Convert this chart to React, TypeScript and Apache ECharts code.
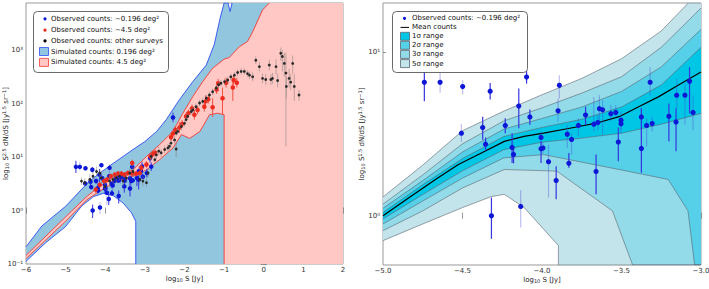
import React, { useEffect, useRef } from 'react';
import * as echarts from 'echarts';

const FONT = 'DejaVu Sans';

// ---------- axes ----------
const leftX = { min: -6, max: 2, interval: 1 };
const leftY = { min: -1, max: 3.88 };
const leftYTicks = [-1, 0, 1, 2, 3];
const rightX = { min: -5, max: -3, interval: 0.5 };
const rightY = { min: -0.30103, max: 1.30103 };
const rightYTicks = [0, 1];

// ---------- left panel: simulated bands (log10 units) ----------
const simBlueUpper = [[-6, -0.68], [-5.6, -0.29], [-5, 0.08], [-4.4, 0.55], [-3.9, 0.83], [-3.3, 1.14], [-3, 1.29], [-2.7, 1.48], [-2.46, 1.7], [-2.13, 2.07], [-1.79, 2.41], [-1.45, 2.72], [-1.25, 3.1], [-1.1, 3.6], [-1.0, 3.88], [-0.9, 3.88], [-0.85, 3.72], [-0.8, 3.88]];
const simBlueLower = [[-6, -0.95], [-5.5, -0.6], [-5, -0.3], [-4.6, 0.08], [-4.3, 0.26], [-4.05, 0.32], [-3.8, 0.28], [-3.55, 0.14], [-3.34, -0.04], [-3.23, -0.2], [-3.23, -1]];
const simRedUpper = [[-6, -0.84], [-5, -0.12], [-4.47, 0.26], [-4.14, 0.45], [-3.72, 0.64], [-3.3, 0.76], [-2.96, 1.01], [-2.63, 1.23], [-2.29, 1.48], [-2.04, 1.82], [-1.79, 2.13], [-1.54, 2.41], [-1.29, 2.66], [-1.0, 2.83], [-0.87, 2.86], [-0.62, 3.06], [-0.41, 3.16], [-0.28, 3.34], [-0.03, 3.75], [0.14, 3.88]];
const simRedLower = [[-6, -0.9], [-5, -0.2], [-4.47, 0.2], [-4.14, 0.36], [-3.72, 0.55], [-3.3, 0.64], [-2.96, 0.76], [-2.63, 0.95], [-2.29, 1.17], [-2.08, 1.42], [-1.87, 1.35], [-1.61, 1.48], [-1.37, 1.79], [-1.16, 1.82], [-1.0, 1.79], [-1.0, -1]];

// ---------- observed counts: [x, y, yLow, yHigh, darkBar] ----------
const blueObs = [
  [-4.74, 0.816, 0.701, 0.93, 1], [-4.641, 0.816, 0.752, 0.9, 0], [-4.499, 0.79, 0.743, 0.828, 0], [-4.326, 0.762, 0.711, 0.812, 1],
  [-4.507, 0.505, 0.451, 0.56, 0], [-4.373, 0.539, 0.465, 0.606, 1], [-4.355, 0.438, 0.398, 0.479, 1], [-4.231, 0.552, 0.505, 0.596, 1],
  [-4.146, 0.671, 0.535, 0.778, 1], [-4.188, 0.418, 0.323, 0.505, 1], [-4.179, 0.374, 0.32, 0.42, 1], [-4.076, 0.604, 0.557, 0.65, 1],
  [-4.097, 0.848, 0.808, 0.889, 1], [-4.318, 0.0, -0.141, 0.111, 1], [-4.134, 0.057, -0.071, 0.156, 0], [-4.006, 0.479, 0.434, 0.515, 0],
  [-4.006, 0.41, 0.323, 0.455, 1], [-3.994, 0.414, 0.38, 0.45, 0], [-3.959, 0.331, 0.111, 0.434, 0], [-3.911, 0.216, 0.101, 0.303, 1],
  [-3.899, 0.642, 0.576, 0.717, 0], [-3.891, 0.798, 0.717, 0.859, 0], [-3.841, 0.499, 0.414, 0.556, 0], [-3.831, 0.321, 0.293, 0.384, 1],
  [-3.814, 0.467, 0.374, 0.505, 0], [-3.771, 0.552, 0.485, 0.596, 0], [-3.726, 0.616, 0.556, 0.667, 1], [-3.674, 0.56, 0.515, 0.727, 0],
  [-3.66, 0.271, 0.131, 0.374, 1], [-3.649, 0.57, 0.525, 0.616, 0], [-3.639, 0.655, 0.556, 0.737, 0], [-3.619, 0.648, 0.495, 0.707, 0],
  [-3.567, 0.624, 0.576, 0.677, 0], [-3.536, 0.632, 0.596, 0.677, 0], [-3.52, 0.451, 0.333, 0.539, 1], [-3.503, 0.584, 0.525, 0.636, 0],
  [-3.503, 0.562, 0.5, 0.6, 0], [-3.375, 0.604, 0.475, 0.657, 0], [-3.375, 0.412, 0.263, 0.657, 1], [-3.342, 0.552, 0.424, 0.596, 0],
  [-3.32, 0.816, 0.737, 0.909, 0], [-3.307, 0.564, 0.515, 0.606, 0], [-3.202, 0.608, 0.455, 0.687, 1], [-3.157, 0.574, 0.394, 0.657, 1],
  [-3.153, 0.737, 0.657, 0.838, 0], [-3.101, 0.737, 0.556, 0.808, 0], [-3.072, 0.822, 0.626, 0.909, 1], [-3.05, 0.632, 0.525, 0.737, 0],
  [-2.95, 0.7, 0.62, 0.78, 1], [-2.87, 0.98, 0.9, 1.06, 1], [-2.84, 0.82, 0.74, 0.9, 1], [-2.29, 1.74, 1.65, 1.83, 1],
];
const redObs = [
  [-4.24, 0.39, 0.33, 0.45], [-4.14, 0.48, 0.43, 0.54], [-4.03, 0.55, 0.5, 0.6], [-3.95, 0.58, 0.53, 0.63], [-3.86, 0.64, 0.59, 0.69],
  [-3.76, 0.67, 0.62, 0.72], [-3.68, 0.69, 0.64, 0.74], [-3.59, 0.69, 0.64, 0.74], [-3.51, 0.67, 0.62, 0.72], [-3.43, 0.7, 0.65, 0.75],
  [-3.32, 0.89, 0.83, 0.95], [-3.32, 0.69, 0.64, 0.74], [-3.22, 0.69, 0.64, 0.74], [-3.13, 0.7, 0.65, 0.75], [-3.09, 0.8, 0.74, 0.86],
  [-2.96, 0.86, 0.8, 0.92], [-2.86, 1.01, 0.95, 1.07], [-2.8, 1.06, 1.0, 1.12], [-2.74, 1.08, 1.02, 1.14], [-2.34, 1.37, 1.3, 1.44],
  [-2.29, 1.44, 1.37, 1.51], [-2.23, 1.51, 1.44, 1.58], [-2.13, 1.55, 1.45, 1.65], [-2.06, 1.62, 1.55, 1.69], [-1.96, 1.76, 1.69, 1.83],
  [-1.9, 1.82, 1.75, 1.89], [-1.81, 1.91, 1.84, 1.98], [-1.75, 1.79, 1.7, 1.88], [-1.67, 1.88, 1.8, 1.96], [-1.5, 1.94, 1.85, 2.03],
  [-1.47, 2.04, 1.9, 2.15], [-1.4, 2.08, 2.0, 2.16], [-1.29, 1.93, 1.75, 2.1], [-1.19, 2.26, 2.18, 2.34], [-1.15, 2.38, 2.3, 2.46],
  [-1.04, 2.1, 1.8, 2.3], [-0.95, 2.39, 2.3, 2.48], [-0.78, 2.3, 2.05, 2.45], [-0.76, 2.44, 2.35, 2.53], [-0.68, 2.39, 2.3, 2.48],
];
const otherObs = [
  [-4.6, 0.55, 0.48, 0.62], [-4.52, 0.52, 0.45, 0.6], [-4.39, 0.58, 0.5, 0.68], [-4.31, 0.64, 0.55, 0.72], [-4.22, 0.73, 0.64, 0.82],
  [-4.14, 0.7, 0.62, 0.78], [-4.1, 0.61, 0.5, 0.75], [-4.01, 0.45, 0.38, 0.55], [-3.89, 0.55, 0.45, 0.65], [-3.8, 0.58, 0.5, 0.68],
  [-3.72, 0.61, 0.52, 0.7], [-3.64, 0.64, 0.56, 0.72], [-3.55, 0.55, 0.45, 0.65], [-3.47, 0.61, 0.52, 0.7], [-3.38, 0.7, 0.6, 0.8],
  [-3.3, 0.73, 0.64, 0.82], [-3.13, 0.58, 0.48, 0.68], [-3.05, 0.55, 0.45, 0.65], [-2.96, 0.52, 0.45, 0.6], [-2.92, 0.7, 0.62, 0.78],
  [-2.84, 1.01, 0.93, 1.1], [-2.75, 0.95, 0.87, 1.03], [-2.71, 1.04, 0.96, 1.12], [-2.65, 1.11, 1.03, 1.19], [-2.59, 1.08, 1.0, 1.15],
  [-2.5, 1.14, 1.07, 1.21], [-2.42, 1.17, 1.1, 1.24], [-2.38, 1.2, 1.13, 1.27], [-2.34, 1.26, 1.19, 1.33], [-2.25, 1.32, 1.25, 1.39],
  [-2.21, 1.15, 1.0, 1.28], [-2.21, 1.45, 1.38, 1.52], [-2.17, 1.48, 1.41, 1.55], [-2.08, 1.57, 1.5, 1.64], [-2.0, 1.63, 1.57, 1.69],
  [-1.96, 1.7, 1.64, 1.76], [-1.92, 1.76, 1.7, 1.82], [-1.83, 1.85, 1.79, 1.91], [-1.79, 1.88, 1.82, 1.94], [-1.71, 1.94, 1.88, 2.0],
  [-1.62, 2.01, 1.95, 2.07], [-1.54, 2.04, 1.98, 2.1], [-1.45, 2.1, 2.04, 2.16], [-1.37, 2.16, 2.1, 2.22], [-1.29, 2.22, 2.16, 2.28],
  [-1.2, 2.29, 2.23, 2.35], [-1.14, 2.35, 2.29, 2.41], [-1.08, 2.38, 2.32, 2.44], [-0.99, 2.41, 2.35, 2.47], [-0.91, 2.44, 2.38, 2.5],
  [-0.83, 2.5, 2.44, 2.56], [-0.74, 2.53, 2.47, 2.59], [-0.66, 2.58, 2.52, 2.64], [-0.57, 2.6, 2.54, 2.66], [-0.49, 2.6, 2.54, 2.66],
  [-0.41, 2.56, 2.5, 2.62], [-0.36, 2.53, 2.46, 2.6], [-0.28, 2.5, 2.42, 2.58], [-0.2, 2.81, 2.74, 2.88], [-0.11, 2.69, 2.6, 2.78],
  [-0.03, 2.47, 2.38, 2.56], [0.05, 2.45, 2.35, 2.55], [0.14, 2.72, 2.62, 2.82], [0.18, 2.45, 2.35, 2.55], [0.22, 2.47, 2.37, 2.57],
  [0.31, 2.69, 2.55, 2.83], [0.35, 2.43, 2.3, 2.56], [0.43, 2.94, 2.8, 3.05], [0.47, 2.88, 2.6, 3.0], [0.52, 2.75, 2.5, 2.95],
  [0.56, 2.57, 1.2, 2.95], [0.57, 2.32, 2.1, 2.5], [0.64, 2.47, 2.3, 2.65], [0.68, 2.4, 2.25, 2.55], [0.73, 2.75, 2.55, 2.9],
  [0.77, 2.32, 2.05, 2.55], [0.89, 2.16, 2.05, 2.25],
];

// ---------- right panel: mean counts and sigma ranges (log10 units) ----------
const meanCounts = [[-5, 0], [-4.835, 0.111], [-4.67, 0.222], [-4.526, 0.313], [-4.381, 0.384], [-4.237, 0.455], [-4.113, 0.485], [-3.99, 0.505], [-3.825, 0.535], [-3.66, 0.566], [-3.515, 0.606], [-3.392, 0.667], [-3.268, 0.727], [-3.144, 0.798], [-3, 0.879]];
const sig1Up = [[-5, 0.02], [-4.75, 0.19], [-4.5, 0.35], [-4.24, 0.485], [-4.0, 0.54], [-3.75, 0.59], [-3.5, 0.665], [-3.25, 0.8], [-3.0, 1.03]];
const sig2Up = [[-5, 0.046], [-4.75, 0.215], [-4.5, 0.39], [-4.24, 0.53], [-4.0, 0.595], [-3.75, 0.665], [-3.5, 0.76], [-3.25, 0.91], [-3.0, 1.14]];
const sig3Up = [[-5, 0.071], [-4.75, 0.25], [-4.5, 0.44], [-4.24, 0.58], [-4.0, 0.66], [-3.75, 0.75], [-3.5, 0.85], [-3.25, 1.03], [-3.0, 1.27]];
const sig5Up = [[-5, 0.115], [-4.75, 0.31], [-4.5, 0.52], [-4.24, 0.64], [-4.0, 0.74], [-3.75, 0.84], [-3.5, 0.96], [-3.25, 1.13], [-3.08, 1.301], [-3.0, 1.301]];
const sig1Lo = [[-5, -0.02], [-4.75, 0.13], [-4.5, 0.275], [-4.24, 0.404], [-4.0, 0.45], [-3.75, 0.475], [-3.5, 0.505], [-3.25, 0.56], [-3.0, 0.626]];
const sig2Lo = [[-5, -0.05], [-4.75, 0.09], [-4.5, 0.23], [-4.24, 0.354], [-3.99, 0.374], [-3.5, 0.28], [-3.206, 0.222], [-3.082, 0.03], [-3.04, -0.301], [-3, -0.301]];
const sig3Lo = [[-5, -0.091], [-4.75, 0.03], [-4.5, 0.17], [-4.237, 0.283], [-3.907, 0.273], [-3.557, 0.03], [-3.43, -0.301], [-3, -0.301]];
const sig5Lo = [[-5, -0.152], [-4.75, -0.05], [-4.5, 0.05], [-4.32, 0.117], [-4.237, 0.131], [-4.113, 0.051], [-3.897, -0.182], [-3.897, -0.301], [-3, -0.301]];

// ---------- styling ----------
const C = {
  simBlue: '#92c5de', simBlueEdge: '#2f4cf5', simPink: '#ffc8c4', simRedEdge: '#f53a33',
  blue: '#0c18d6', blueBarDark: '#3535e0', blueBarLight: 'rgba(70,70,215,0.35)', red: '#ee2a1e', redBar: '#f05040',
  black: '#2a2a2a', blackBar: 'rgba(120,120,120,0.55)',
  s1: '#00c6e6', s2: '#55d0e8', s3: '#93dbe9', s5: '#c3e4ea', sLine: '#5a6570',
};

const supMap: Record<string, string> = { '-': '⁻', '0': '⁰', '1': '¹', '2': '²', '3': '³', '4': '⁴' };
const pow10 = (v: number) => (Math.abs(v - Math.round(v)) < 1e-6 ? '10' + String(Math.round(v)).split('').map((c) => supMap[c]).join('') : '');
const minus = (s: string) => s.replace('-', '−');

function bandPolygon(upper: number[][], lower: number[][], extra: number[][] = []) {
  return [...upper, ...extra, ...lower.slice().reverse()];
}

function polySeries(pts: number[][], fill: string, xi: number, z: number) {
  return {
    type: 'custom', xAxisIndex: xi, yAxisIndex: xi, z, clip: true, silent: true,
    data: [0],
    renderItem: (_p: any, api: any) => ({
      type: 'polygon',
      shape: { points: pts.map((p) => api.coord(p)) },
      style: { fill, stroke: 'none' },
    }),
  };
}
function lineSeries(pts: number[][], color: string, width: number, xi: number, z: number) {
  return {
    type: 'line', xAxisIndex: xi, yAxisIndex: xi, z, data: pts, symbol: 'none', clip: true, silent: true,
    lineStyle: { color, width }, animation: false,
  };
}
function barSeries(rows: number[][], colorFn: (r: number[]) => string, xi: number, z: number, width = 1) {
  return {
    type: 'custom', xAxisIndex: xi, yAxisIndex: xi, z, clip: true, silent: true,
    data: rows.map((r) => [r[0], r[2], r[3], r[4] ?? 0]),
    renderItem: (_p: any, api: any) => {
      const a = api.coord([api.value(0), api.value(1)]);
      const b = api.coord([api.value(0), api.value(2)]);
      return {
        type: 'line', shape: { x1: a[0], y1: a[1], x2: b[0], y2: b[1] },
        style: { stroke: colorFn([0, 0, 0, 0, api.value(3)]), lineWidth: width },
      };
    },
  };
}
function pointSeries(rows: number[][], color: string, size: number, xi: number, z: number) {
  return {
    type: 'scatter', xAxisIndex: xi, yAxisIndex: xi, z, clip: true, silent: true,
    data: rows.map((r) => [r[0], r[1]]), symbolSize: size, itemStyle: { color, opacity: 1 },
  };
}

const richName = {
  t: { fontSize: 7, fontFamily: FONT, color: '#222', lineHeight: 8, verticalAlign: 'bottom' },
  s: { fontSize: 5, fontFamily: FONT, color: '#222', lineHeight: 5, verticalAlign: 'bottom' },
  p: { fontSize: 5, fontFamily: FONT, color: '#222', lineHeight: 5, verticalAlign: 'top' },
};

function legendGraphics() {
  const txt = (x: number, y: number, text: string) => ({
    type: 'text', x, y, z: 100,
    style: { text, fontSize: 7, fontFamily: FONT, fill: '#111', verticalAlign: 'middle', align: 'left' },
  });
  const dot = (x: number, y: number, fill: string) => ({ type: 'circle', z: 100, shape: { cx: x, cy: y, r: 1.6 }, style: { fill } });
  const patch = (x: number, y: number, fill: string, stroke: string) => ({
    type: 'rect', z: 100, shape: { x, y: y - 4, width: 9, height: 8 }, style: { fill, stroke, lineWidth: 0.8 },
  });
  const L = [18.8, 30.2, 40.9, 51.5, 62.4];
  const R = [18.3, 27.4, 36.3, 45.3, 54.4, 63.6];
  return [
    { type: 'rect', z: 99, shape: { x: 33.5, y: 11.5, width: 135, height: 61, r: 4 }, style: { fill: '#fff', stroke: '#444', lineWidth: 0.8 } },
    dot(45, L[0], C.blue), txt(51, L[0], 'Observed counts: ∼0.196 deg²'),
    dot(45, L[1], C.red), txt(51, L[1], 'Observed counts: ∼4.5 deg²'),
    dot(45, L[2], '#000'), txt(51, L[2], 'Observed counts: other surveys'),
    patch(39.5, L[3], C.simBlue, C.simBlueEdge), txt(51, L[3], 'Simulated counts: 0.196 deg²'),
    patch(39.5, L[4], C.simPink, C.simRedEdge), txt(51, L[4], 'Simulated counts: 4.5 deg²'),

    { type: 'rect', z: 99, shape: { x: 392.5, y: 11.5, width: 135, height: 61, r: 4 }, style: { fill: '#fff', stroke: '#444', lineWidth: 0.8 } },
    dot(404.5, R[0], C.blue), txt(412, R[0], 'Observed counts: ∼0.196 deg²'),
    { type: 'line', z: 100, shape: { x1: 400.5, y1: R[1], x2: 409, y2: R[1] }, style: { stroke: '#000', lineWidth: 1 } },
    txt(412, R[1], 'Mean counts'),
    patch(400.5, R[2], C.s1, C.sLine), txt(412, R[2], '1σ range'),
    patch(400.5, R[3], C.s2, C.sLine), txt(412, R[3], '2σ range'),
    patch(400.5, R[4], C.s3, C.sLine), txt(412, R[4], '3σ range'),
    patch(400.5, R[5], C.s5, C.sLine), txt(412, R[5], '5σ range'),
  ];
}

function axisCommon() {
  return {
    axisLine: { show: false },
    axisTick: { show: true, inside: true, length: 3, lineStyle: { color: '#777', width: 0.8 } },
    splitLine: { show: false },
    axisLabel: { fontSize: 7, fontFamily: FONT, color: '#333', margin: 3 },
    nameMoveOverlap: false,
  };
}

function buildOption() {
  const ac = axisCommon();
  const xLabelName = '{t|log}{s|10}{t| S [Jy]}';
  const xLab = { ...ac.axisLabel, margin: 2 };
  const xAxes = [
    { ...ac, type: 'value', gridIndex: 0, position: 'bottom', ...leftX,
      axisLabel: { ...xLab, formatter: (v: number) => minus(String(v)) },
      name: xLabelName, nameLocation: 'middle', nameGap: 10, nameTextStyle: { rich: richName } },
    { ...ac, type: 'value', gridIndex: 0, position: 'top', ...leftX, axisLabel: { show: false } },
    { ...ac, type: 'value', gridIndex: 1, position: 'bottom', ...rightX,
      axisLabel: { ...xLab, formatter: (v: number) => minus(v.toFixed(1)) },
      name: xLabelName, nameLocation: 'middle', nameGap: 10, nameTextStyle: { rich: richName } },
    { ...ac, type: 'value', gridIndex: 1, position: 'top', ...rightX, axisLabel: { show: false } },
  ];
  const yAxes = [
    { ...ac, type: 'value', gridIndex: 0, position: 'left', ...leftY,
      axisTick: { ...ac.axisTick, customValues: leftYTicks },
      axisLabel: { ...ac.axisLabel, customValues: leftYTicks, formatter: (v: number) => pow10(v) },
      name: '{t|log}{s|10}{t| S}{p|2.5}{t| dN/dS [Jy}{p|1.5}{t| sr}{p|−1}{t|]}',
      nameLocation: 'middle', nameGap: 16.5, nameTextStyle: { rich: richName } },
    { ...ac, type: 'value', gridIndex: 0, position: 'right', ...leftY,
      axisTick: { ...ac.axisTick, customValues: leftYTicks }, axisLabel: { show: false } },
    { ...ac, type: 'value', gridIndex: 1, position: 'left', ...rightY,
      axisTick: { ...ac.axisTick, customValues: rightYTicks },
      axisLabel: { ...ac.axisLabel, customValues: rightYTicks, formatter: (v: number) => pow10(v) },
      name: '{t|log}{s|10}{t| S}{p|1.5}{t| dN/dS [Jy}{p|1.5}{t| sr}{p|−1}{t|]}',
      nameLocation: 'middle', nameGap: 18, nameTextStyle: { rich: richName } },
    { ...ac, type: 'value', gridIndex: 1, position: 'right', ...rightY,
      axisTick: { ...ac.axisTick, customValues: rightYTicks }, axisLabel: { show: false } },
  ];

  const top = leftY.max, bot = leftY.min;
  const series: any[] = [
    // left panel
    polySeries(bandPolygon(simBlueUpper, simBlueLower, [[2, top], [2, bot]]), C.simBlue, 0, 1),
    polySeries(bandPolygon(simRedUpper, simRedLower, [[2, top], [2, bot]]), C.simPink, 0, 2),
    lineSeries(simBlueUpper, C.simBlueEdge, 0.9, 0, 3),
    lineSeries(simBlueLower, C.simBlueEdge, 0.9, 0, 3),
    lineSeries(simRedUpper, C.simRedEdge, 0.9, 0, 3),
    lineSeries(simRedLower, C.simRedEdge, 0.9, 0, 3),
    barSeries(blueObs, (r) => (r[4] ? C.blueBarDark : C.blueBarLight), 0, 4),
    pointSeries(blueObs, C.blue, 4.5, 0, 5),
    barSeries(redObs, () => C.redBar, 0, 6),
    pointSeries(redObs, C.red, 4.5, 0, 7),
    barSeries(otherObs, () => C.blackBar, 0, 8, 0.9),
    pointSeries(otherObs, C.black, 2.8, 0, 9),
    // right panel
    polySeries(bandPolygon(sig5Up, sig5Lo), C.s5, 2, 1),
    polySeries(bandPolygon(sig3Up, sig3Lo), C.s3, 2, 2),
    polySeries(bandPolygon(sig2Up, sig2Lo), C.s2, 2, 3),
    polySeries(bandPolygon(sig1Up, sig1Lo), C.s1, 2, 4),
    ...[sig5Up, sig3Up, sig2Up, sig1Up, sig1Lo, sig2Lo, sig3Lo, sig5Lo].map((s) => lineSeries(s, C.sLine, 0.6, 2, 5)),
    lineSeries(meanCounts, '#000', 1.2, 2, 6),
    barSeries(blueObs, (r) => (r[4] ? C.blueBarDark : C.blueBarLight), 2, 7, 1.2),
    pointSeries(blueObs, C.blue, 5.2, 2, 8),
  ];

  return {
    animation: false,
    backgroundColor: '#fff',
    grid: [
      { left: 26, top: 3, width: 317, height: 261, show: true, borderColor: '#999', borderWidth: 1, backgroundColor: 'transparent', containLabel: false, outerBoundsMode: 'none' },
      { left: 383, top: 3, width: 318, height: 262, show: true, borderColor: '#999', borderWidth: 1, backgroundColor: 'transparent', containLabel: false, outerBoundsMode: 'none' },
    ],
    xAxis: xAxes,
    yAxis: yAxes,
    series,
    graphic: legendGraphics(),
  };
}

export default function App() {
  const ref = useRef<HTMLDivElement>(null);
  useEffect(() => {
    if (!ref.current) return;
    const chart = echarts.init(ref.current, undefined, { renderer: 'svg' });
    chart.setOption(buildOption() as any);
    return () => chart.dispose();
  }, []);
  return <div ref={ref} style={{ position: 'absolute', left: 0, top: 0, width: 709, height: 289 }} />;
}
